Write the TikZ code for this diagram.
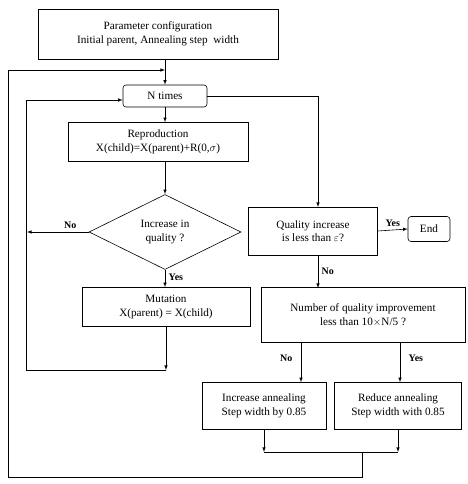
\documentclass[tikz,border=0pt]{standalone}
\usepackage{fontspec}
\setmainfont{Liberation Serif}
\usetikzlibrary{shapes.geometric}

\begin{document}
\begin{tikzpicture}[>=latex, x=1pt, y=-1pt, font=\fontsize{11.2}{13.5}\selectfont]
  \tikzstyle{blk}=[draw, semithick, inner sep=0pt, align=center]
  \tikzstyle{rblk}=[blk, rounded corners=3pt]
  \tikzstyle{lbl}=[font=\fontsize{10}{12}\selectfont\bfseries]
  \useasboundingbox (0,0) rectangle (467,484);

  % --- nodes ---
  \node[blk, minimum width=240, minimum height=50] (param) at (158,34)
    {Parameter configuration\\Initial parent, Annealing step\ \ width};
  \node[rblk, minimum width=84, minimum height=22] (ntimes) at (165,96) {N times};
  \node[blk, minimum width=180, minimum height=39] (repro) at (158,142)
    {Reproduction\\X(child)=X(parent)+R(0,$\sigma$)};
  \node[blk, diamond, minimum width=152, minimum height=75] (incq) at (165,232)
    {Increase in\\quality ?};
  \node[blk, minimum width=168, minimum height=39] (mutat) at (166,307)
    {Mutation\\X(parent) = X(child)};
  \node[blk, minimum width=129, minimum height=48] (qual) at (313,231)
    {Quality increase\\is less than $\varepsilon$?};
  \node[rblk, minimum width=42, minimum height=25] (fin) at (429,229) {End};
  \node[blk, minimum width=204, minimum height=55] (numq) at (363,315)
    {Number of quality improvement\\less than 10$\times$N/5 ?};
  \node[blk, minimum width=124, minimum height=47] (incr) at (264,406)
    {Increase annealing\\Step width by 0.85};
  \node[blk, minimum width=127, minimum height=47] (redu) at (398,406)
    {Reduce annealing\\Step width with 0.85};

  \coordinate (topj) at (165,70);
  \coordinate (loopb) at (166,370);
  \coordinate (merge) at (362,452);

  % --- main column ---
  \draw[semithick] (param.south -| topj) -- (topj);
  \draw[->, semithick] (topj) -- (ntimes.north);
  \draw[->, semithick] (ntimes.south) -- (ntimes.south |- repro.north);
  \draw[->, semithick] (repro.south -| incq) -- (incq.north);
  \draw[->, semithick] (incq.south) -- (incq.south |- mutat.north)
    node[lbl, pos=0.45, right] {Yes};

  % --- inner loop ---
  \draw[->, semithick] (incq.west) -- (27,232) node[lbl, pos=0.3, above] {No};
  \draw[->, semithick] (mutat.south -| loopb) -- (loopb);
  \draw[->, semithick] (loopb) -- (26,370) -- (26,100) -- (ntimes.west |- 0,100);

  % --- right column ---
  \draw[->, semithick] (ntimes.east) -- (318,96) -- (318,207);
  \draw[->, semithick] (qual.east) -- (fin.west) node[lbl, midway, above] {Yes};
  \draw[->, semithick] (318,255) -- (318,288) node[lbl, midway, right] {No};
  \draw[->, semithick] ([xshift=-62pt]numq.south) -- ([xshift=-62pt]numq.south |- incr.north)
    node[lbl, pos=0.4, left=5pt] {No};
  \draw[->, semithick] ([xshift=37pt]numq.south) -- ([xshift=37pt]numq.south |- redu.north)
    node[lbl, pos=0.4, right=5pt] {Yes};

  % --- merge and outer loop ---
  \draw[->, semithick] (incr.south) -- (incr.south |- merge);
  \draw[->, semithick] (redu.south) -- (redu.south |- merge);
  \draw[semithick] (incr.south |- merge) -- (redu.south |- merge);
  \draw[->, semithick] (merge) -- (362,477) -- (8,477) -- (8,70) -- (topj);
\end{tikzpicture}
\end{document}
